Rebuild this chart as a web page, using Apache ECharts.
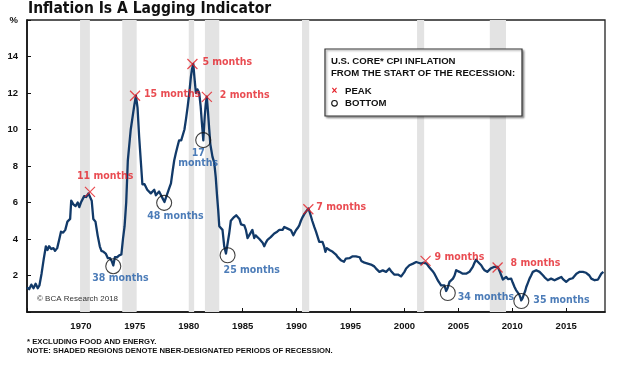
<!DOCTYPE html>
<html><head><meta charset="utf-8">
<script src="https://cdn.jsdelivr.net/npm/echarts@6/dist/echarts.min.js"></script>
<style>html,body{margin:0;padding:0;background:#fff}#c{width:620px;height:365px}</style>
</head><body><div id="c"></div>
<script>
// Decimal-year dates and U.S. core CPI inflation (% y/y)
const dates = [
1965.0,1965.2,1965.4,1965.6,1965.8,1966.0,1966.15,1966.35,1966.55,1966.75,1966.9,
1967.05,1967.25,1967.45,1967.6,1967.8,1968.0,1968.15,1968.35,1968.55,1968.75,1968.9,
1969.0,1969.1,1969.3,1969.5,1969.7,1969.85,1970.0,1970.15,1970.3,1970.5,1970.7,1970.85,
1971.0,1971.15,1971.35,1971.55,1971.75,1971.9,1972.1,1972.3,1972.5,1972.7,1972.85,
1973.0,1973.15,1973.35,1973.55,1973.75,1973.9,1974.05,1974.2,1974.35,1974.62,1974.93,
1975.1,1975.25,1975.4,1975.55,1975.7,1975.9,1976.15,1976.3,1976.48,1976.65,1976.8,1976.95,
1977.1,1977.25,1977.4,1977.6,1977.75,1977.9,1978.05,1978.2,1978.35,1978.5,1978.65,1978.8,1978.95,
1979.1,1979.3,1979.45,1979.6,1979.75,1979.9,1980.05,1980.2,1980.3,1980.42,1980.52,1980.66,1980.8,1980.97,
1981.1,1981.2,1981.35,1981.48,1981.58,1981.67,1981.78,1981.9,1982.0,1982.2,1982.36,1982.5,1982.62,1982.73,1982.83,
1983.0,1983.13,1983.29,1983.45,1983.55,1983.75,1983.9,1984.05,1984.2,1984.4,1984.55,1984.7,1984.85,
1985.0,1985.15,1985.3,1985.45,1985.6,1985.75,1985.9,1986.07,1986.2,1986.37,1986.55,1986.7,1986.85,
1987.0,1987.15,1987.3,1987.45,1987.6,1987.75,1987.93,1988.2,1988.4,1988.55,1988.7,1988.86,
1989.0,1989.17,1989.35,1989.48,1989.7,1989.94,1990.1,1990.25,1990.4,1990.56,1990.7,1990.87,
1991.0,1991.1,1991.2,1991.3,1991.45,1991.64,1991.8,1991.95,1992.1,1992.25,1992.4,1992.55,1992.67,1992.8,1992.9,
1993.05,1993.2,1993.35,1993.5,1993.65,1993.8,1993.95,1994.1,1994.25,1994.4,1994.57,1994.75,1994.9,
1995.05,1995.2,1995.36,1995.5,1995.67,1995.85,1996.0,1996.13,1996.3,1996.44,1996.6,1996.75,1996.9,
1997.06,1997.2,1997.37,1997.5,1997.68,1997.85,1997.99,1998.15,1998.3,1998.45,1998.6,1998.75,1998.9,
1999.05,1999.23,1999.4,1999.54,1999.7,1999.84,2000.0,2000.16,2000.3,2000.46,2000.6,2000.8,2000.93,
2001.09,2001.3,2001.55,2001.75,2001.92,2002.05,2002.17,2002.3,2002.48,2002.6,2002.78,2002.95,
2003.09,2003.25,2003.4,2003.55,2003.71,2003.87,2004.0,2004.18,2004.35,2004.5,2004.65,2004.8,2004.95,
2005.1,2005.25,2005.41,2005.55,2005.72,2005.9,2006.03,2006.2,2006.34,2006.5,2006.65,2006.8,2006.95,
2007.12,2007.28,2007.43,2007.55,2007.68,2007.85,2007.99,2008.15,2008.3,2008.45,2008.66,2008.82,2008.98,
2009.13,2009.3,2009.44,2009.6,2009.75,2009.9,2010.05,2010.21,2010.35,2010.52,2010.65,2010.74,2010.83,2010.95,
2011.05,2011.2,2011.3,2011.45,2011.6,2011.75,2011.91,2012.05,2012.22,2012.4,2012.53,2012.7,2012.84,
2013.0,2013.15,2013.3,2013.45,2013.6,2013.75,2013.92,2014.08,2014.23,2014.4,2014.55,2014.7,2014.86,
2015.0,2015.16,2015.3,2015.47,2015.6,2015.78,2015.95,2016.09,2016.25,2016.4,2016.55,2016.71,2016.85,
2017.02,2017.15,2017.33,2017.5,2017.64,2017.8,2017.95,2018.1,2018.26,2018.45
];
const coreCpi = [
1.35,1.25,1.5,1.3,1.55,1.3,1.45,2.1,2.9,3.6,3.4,
3.6,3.45,3.5,3.35,3.5,4.0,4.4,4.35,4.5,4.95,4.9,
5.1,6.1,5.9,5.8,6.0,5.75,6.0,5.9,6.35,6.3,6.5,6.6,
6.1,5.1,4.95,4.2,3.6,3.35,3.3,3.2,2.95,2.95,2.8,
2.55,3.0,3.0,3.1,3.15,4.0,4.7,6.0,8.3,10.0,11.25,
11.85,11.2,9.6,8.3,7.0,7.0,6.7,6.8,6.5,6.6,6.7,6.4,
6.3,6.6,6.6,6.2,6.03,6.3,6.4,6.8,7.05,7.7,8.3,8.7,9.05,
9.4,9.4,9.5,10.0,10.6,11.25,12.0,12.9,13.3,13.6,12.9,12.0,12.2,12.0,
11.3,10.5,9.4,10.7,11.4,11.8,11.0,10.0,9.2,8.5,8.2,7.4,6.4,5.6,4.7,
4.6,4.5,3.6,3.2,3.3,4.3,5.0,5.1,5.2,5.3,5.3,5.1,4.8,
4.7,4.75,4.5,4.05,4.2,4.3,4.5,4.05,4.2,4.1,4.0,3.95,3.8,
3.6,3.8,3.95,4.0,4.1,4.2,4.3,4.4,4.5,4.57,4.5,4.66,
4.6,4.57,4.5,4.48,4.2,4.48,4.6,4.75,5.0,5.2,5.35,5.5,
5.5,5.67,5.5,5.3,5.0,4.66,4.4,4.3,3.84,3.9,3.84,3.6,3.3,3.5,3.45,
3.4,3.38,3.3,3.3,3.15,3.02,2.95,2.84,2.8,2.75,2.93,2.84,2.95,
3.02,3.05,3.11,3.05,3.02,3.0,2.8,2.74,2.7,2.65,2.65,2.62,2.6,
2.56,2.5,2.38,2.3,2.2,2.25,2.28,2.2,2.2,2.3,2.38,2.25,2.15,
2.05,2.0,2.05,2.0,1.95,1.88,2.2,2.38,2.47,2.56,2.6,2.65,2.65,
2.74,2.7,2.65,2.7,2.74,2.65,2.56,2.45,2.38,2.25,2.1,1.9,
1.74,1.6,1.46,1.5,1.46,1.15,1.3,1.65,1.75,1.83,2.0,2.29,2.25,
2.2,2.15,2.1,2.15,2.1,2.15,2.2,2.35,2.47,2.7,2.87,2.75,2.7,
2.56,2.4,2.29,2.25,2.2,2.3,2.38,2.4,2.47,2.4,2.47,2.25,2.01,
1.78,1.85,1.92,1.8,1.74,1.83,1.6,1.37,1.2,1.1,0.95,0.82,0.64,0.75,
0.92,1.15,1.37,1.6,1.83,2.0,2.2,2.25,2.29,2.25,2.2,2.1,2.01,
1.9,1.8,1.74,1.7,1.83,1.75,1.74,1.7,1.83,1.9,1.92,1.8,1.74,
1.65,1.74,1.8,1.83,1.85,1.92,2.1,2.2,2.2,2.25,2.2,2.2,2.15,
2.1,2.0,1.83,1.75,1.74,1.72,1.78,1.85,2.1,2.2
];
// NBER recessions
const recessionStarts = [1969.92, 1973.83, 1980.0, 1981.5, 1990.5, 2001.17, 2007.92];
const recessionEnds   = [1970.83, 1975.17, 1980.5, 1982.83, 1991.17, 2001.83, 2009.42];
// Peaks
const peakDates  = [1970.84, 1975.02, 1980.34, 1981.68, 1991.09, 2001.96, 2008.64];
const peakValues = [6.58, 11.85, 13.59, 11.79, 5.63, 2.8, 2.44];
const peakLabels = ['11 months','15 months','5 months','2 months','7 months','9 months','8 months'];
// Bottoms
const bottomDates  = [1973.0, 1977.72, 1981.34, 1983.6, 2004.02, 2010.84];
const bottomValues = [2.51, 5.98, 9.42, 3.11, 1.04, 0.6];
const bottomLabels = ['38 months','48 months','17\nmonths','25 months','34 months','35 months'];
// Axis ticks
const xTickYears = [1970,1975,1980,1985,1990,1995,2000,2005,2010,2015];
const yTickValues = [2,4,6,8,10,12,14];

const NARROW = "'Liberation Sans Narrow','DejaVu Sans Condensed',sans-serif";
const SANS = "'Liberation Sans',Arial,sans-serif";
const RED = '#e41e26', BLUE = '#1f5ba6', NAVY = '#123a69';

const peakLabelCfg = [
  {align:'left', offset:[-13,-16]},
  {align:'left', offset:[9,-1]},
  {align:'left', offset:[10,-2]},
  {align:'left', offset:[13,-2]},
  {align:'left', offset:[8,-2]},
  {align:'left', offset:[9,-4]},
  {align:'left', offset:[13,-4]}
];
const bottomLabelCfg = [
  {align:'left', offset:[-21,12]},
  {align:'left', offset:[-17,13]},
  {align:'center', offset:[-5,18]},
  {align:'left', offset:[-4,15]},
  {align:'left', offset:[10,4]},
  {align:'left', offset:[12,-1]}
];

const chart = echarts.init(document.getElementById('c'), null, {renderer:'canvas'});
const option = {
  animation: false,
  backgroundColor: '#fff',
  grid: {left:27, right:15, top:20, bottom:53, show:true, borderColor:'#222', borderWidth:1.3, backgroundColor:'transparent'},
  xAxis: {
    type:'value', min:1965, max:2018.6, interval:5,
    axisLine:{show:true, lineStyle:{color:'#111', width:1.6}},
    axisTick:{show:true, inside:true, length:4, lineStyle:{color:'#111'}},
    splitLine:{show:false},
    axisLabel:{margin:9, fontFamily:SANS, fontWeight:'bold', fontSize:9.5, color:'#111',
      showMaxLabel:false,
      formatter: v => xTickYears.indexOf(v) >= 0 ? String(v) : ''}
  },
  yAxis: {
    type:'value', min:0, max:16, interval:2,
    axisLine:{show:true, lineStyle:{color:'#111', width:1.6}},
    axisTick:{show:true, inside:true, length:4, lineStyle:{color:'#111'}},
    splitLine:{show:false},
    axisLabel:{margin:9, fontFamily:SANS, fontWeight:'bold', fontSize:9.5, color:'#111',
      formatter: v => v === 16 ? '%' : (yTickValues.indexOf(v) >= 0 ? String(v) : '')}
  },
  series: [
    {
      type:'custom', z:1, silent:true,
      data: recessionStarts.map((s,i) => [s, recessionEnds[i]]),
      encode:{x:[0,1]},
      renderItem: (params, api) => {
        const p0 = api.coord([api.value(0), 16]);
        const p1 = api.coord([api.value(1), 0]);
        return {type:'rect', shape:{x:p0[0], y:p0[1], width:p1[0]-p0[0], height:p1[1]-p0[1]},
          style:{fill:'#e3e3e3'}};
      },
      clip:true
    },
    {
      type:'line', z:2, symbol:'none',
      data: dates.map((d,i) => [d, coreCpi[i]]),
      lineStyle:{color:NAVY, width:2.3, join:'round'}
    },
    {
      type:'scatter', z:3,
      symbol:'path://M0,0L10,10M10,0L0,10', symbolSize:10,
      itemStyle:{color:'none', borderColor:RED, borderWidth:1.2},
      data: peakDates.map((d,i) => ({value:[d, peakValues[i]], name:peakLabels[i],
        label:{show:true, position:'inside', formatter:peakLabels[i], color:RED,
          fontFamily:NARROW, fontWeight:'bold', fontSize:10.5, verticalAlign:'middle',
          align:peakLabelCfg[i].align, offset:peakLabelCfg[i].offset}}))
    },
    {
      type:'scatter', z:3,
      symbol:'circle', symbolSize:15,
      itemStyle:{color:'none', borderColor:'#111', borderWidth:1.1},
      data: bottomDates.map((d,i) => ({value:[d, bottomValues[i]], name:bottomLabels[i],
        label:{show:true, position:'inside', formatter:bottomLabels[i], color:BLUE,
          fontFamily:NARROW, fontWeight:'bold', fontSize:10.5, lineHeight:10, verticalAlign:'middle',
          align:bottomLabelCfg[i].align, offset:bottomLabelCfg[i].offset}}))
    }
  ],
  graphic: [
    {type:'text', left:28, top:1, style:{text:'Inflation Is A Lagging Indicator', font:"bold 15.5px "+NARROW, fill:'#111'}},
    {type:'rect', shape:{x:325, y:49, width:197, height:67}, z:10,
      style:{fill:'#fff', stroke:'#333', lineWidth:1.2, shadowBlur:2, shadowOffsetX:1.5, shadowOffsetY:1.5, shadowColor:'rgba(0,0,0,0.35)'}},
    {type:'text', x:331, y:61, z:11, style:{text:'U.S. CORE* CPI INFLATION', font:"bold 9.6px "+SANS, fill:'#111', verticalAlign:'middle'}},
    {type:'text', x:331, y:73.3, z:11, style:{text:'FROM THE START OF THE RECESSION:', font:"bold 9.6px "+SANS, fill:'#111', verticalAlign:'middle'}},
    {type:'text', x:334.5, y:91, z:11, style:{text:'×', font:"bold 10px "+SANS, fill:RED, align:'center', verticalAlign:'middle'}},
    {type:'text', x:345, y:91, z:11, style:{text:'PEAK', font:"bold 9.6px "+SANS, fill:'#111', verticalAlign:'middle'}},
    {type:'circle', shape:{cx:334.5, cy:103.3, r:2.8}, z:11, style:{fill:'none', stroke:'#111', lineWidth:1.1}},
    {type:'text', x:345, y:103.3, z:11, style:{text:'BOTTOM', font:"bold 9.6px "+SANS, fill:'#111', verticalAlign:'middle'}},
    {type:'text', x:37, y:299, z:11, style:{text:'© BCA Research 2018', font:"8px "+SANS, fill:'#333', verticalAlign:'middle'}},
    {type:'text', x:27, y:341.5, style:{text:'* EXCLUDING FOOD AND ENERGY.', font:"bold 7.7px "+SANS, fill:'#111', verticalAlign:'middle'}},
    {type:'text', x:27, y:350.5, style:{text:'NOTE: SHADED REGIONS DENOTE NBER-DESIGNATED PERIODS OF RECESSION.', font:"bold 7.7px "+SANS, fill:'#111', verticalAlign:'middle'}}
  ]
};
chart.setOption(option);
</script>
</body></html>
